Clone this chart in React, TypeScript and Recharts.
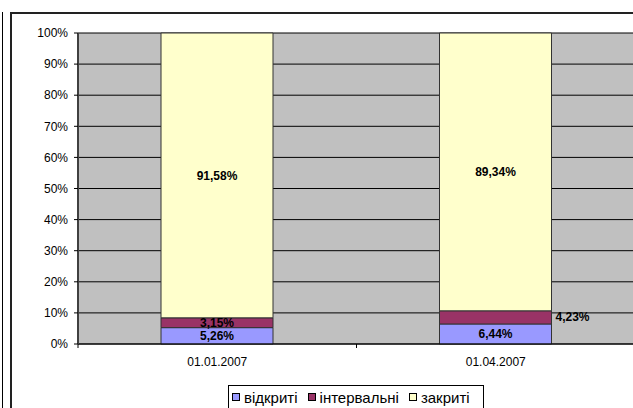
import React from "react";
import { BarChart, Bar, XAxis, YAxis, CartesianGrid, Legend, LabelList } from "recharts";

const categories = ["01.01.2007", "01.04.2007"];
const vidkryti = [5.26, 6.44];
const intervalni = [3.15, 4.23];
const zakryti = [91.58, 89.34];
const yTicks = [0, 0.1, 0.2, 0.3, 0.4, 0.5, 0.6, 0.7, 0.8, 0.9, 1];

const seriesNames = ["відкриті", "інтервальні", "закриті"];
const seriesColors = ["#9999FF", "#993366", "#FFFFCC"];

const data = categories.map((c, i) => ({
    name: c,
    a: vidkryti[i],
    b: intervalni[i],
    c: zakryti[i],
}));

const FONT = "'Liberation Sans', Arial, sans-serif";

const fmt = (v: number) => v.toFixed(2).replace(".", ",") + "%";

// the second bar's middle label sits outside, to the right of the bar
const middleLabel = (props: any) => {
    const { x, y, width, height, value, index } = props;
    const outside = index === 1;
    return (
        <text
            x={outside ? x + width + 4 : x + width / 2}
            y={y + height / 2}
            textAnchor={outside ? "start" : "middle"}
            dominantBaseline="central"
            fontFamily={FONT}
            fontSize={12}
            fontWeight="bold"
            fill="#000"
        >
            {fmt(value)}
        </text>
    );
};

// category label plus tick marks on the band edges (Excel style)
const CategoryTick = (props: any) => {
    const { x, y, payload } = props;
    const half = payload.offset || 0;
    const axisY = y - 13;
    return (
        <g>
            <line x1={x - half} x2={x - half} y1={axisY} y2={axisY + 4} stroke="#000" />
            <line x1={x + half} x2={x + half} y1={axisY} y2={axisY + 4} stroke="#000" />
            <text x={x} y={y} dy="0.71em" textAnchor="middle" fontFamily={FONT} fontSize={12} fill="#000">
                {payload.value}
            </text>
        </g>
    );
};

const LegendBox = () => (
    <div
        style={{
            border: "1px solid #000",
            background: "#fff",
            height: 24,
            boxSizing: "border-box",
            display: "flex",
            alignItems: "center",
            padding: "0 0 0 3px",
            fontFamily: FONT,
            fontSize: 15,
            color: "#000",
            whiteSpace: "nowrap",
        }}
    >
        {seriesNames.map((n, i) => (
            <span key={n} style={{ display: "flex", alignItems: "center", marginRight: 10 }}>
                <span
                    style={{
                        width: 6,
                        height: 6,
                        border: "1px solid #000",
                        background: seriesColors[i],
                        marginRight: 4,
                        display: "inline-block",
                    }}
                />
                {n}
            </span>
        ))}
    </div>
);

const labelStyle = { fontFamily: FONT, fontSize: 12, fontWeight: "bold", fill: "#000" };

export default function App() {
    return (
        <div style={{ position: "fixed", left: 0, top: 0, width: 633, height: 408, background: "#fff" }}>
            <BarChart
                width={633}
                height={408}
                data={data}
                stackOffset="expand"
                margin={{ top: 33, right: -2, left: 18, bottom: 34 }}
            >
                <CartesianGrid fill="#C0C0C0" stroke="#000" vertical={false} fillOpacity={1} />
                <XAxis
                    dataKey="name"
                    height={30}
                    tickLine={false}
                    tickSize={4}
                    tickMargin={9}
                    axisLine={{ stroke: "#000", strokeWidth: 1 }}
                    tick={<CategoryTick />}
                />
                <YAxis
                    width={60}
                    domain={[0, 1]}
                    ticks={yTicks}
                    interval={0}
                    tickFormatter={(v: number) => Math.round(v * 100) + "%"}
                    tickSize={4}
                    tickMargin={6}
                    axisLine={{ stroke: "#404040", strokeWidth: 2 }}
                    tickLine={{ stroke: "#000" }}
                    tick={{ fontFamily: FONT, fontSize: 12, fill: "#000" }}
                />
                <Legend
                    layout="horizontal"
                    verticalAlign="middle"
                    align="center"
                    wrapperStyle={{ left: 228, top: 385, width: 256 }}
                    content={() => <LegendBox />}
                />
                <Bar dataKey="a" name={seriesNames[0]} stackId="s" fill={seriesColors[0]} stroke="#333" strokeWidth={1} barSize={112} isAnimationActive={false}>
                    <LabelList dataKey="a" position="center" formatter={(v: any) => fmt(v)} style={labelStyle} />
                </Bar>
                <Bar dataKey="b" name={seriesNames[1]} stackId="s" fill={seriesColors[1]} stroke="#333" strokeWidth={1} barSize={112} isAnimationActive={false}>
                    <LabelList dataKey="b" content={middleLabel} />
                </Bar>
                <Bar dataKey="c" name={seriesNames[2]} stackId="s" fill={seriesColors[2]} stroke="#333" strokeWidth={1} barSize={112} isAnimationActive={false}>
                    <LabelList dataKey="c" position="center" formatter={(v: any) => fmt(v)} style={labelStyle} />
                </Bar>
            </BarChart>
            <div style={{ position: "absolute", left: 2, top: 12, width: 1, height: 396, background: "#000" }} />
            <div style={{ position: "absolute", left: 10, top: 12, width: 623, height: 396, borderTop: "2px solid #222", borderLeft: "2px solid #222", boxSizing: "border-box", pointerEvents: "none" }} />
        </div>
    );
}
